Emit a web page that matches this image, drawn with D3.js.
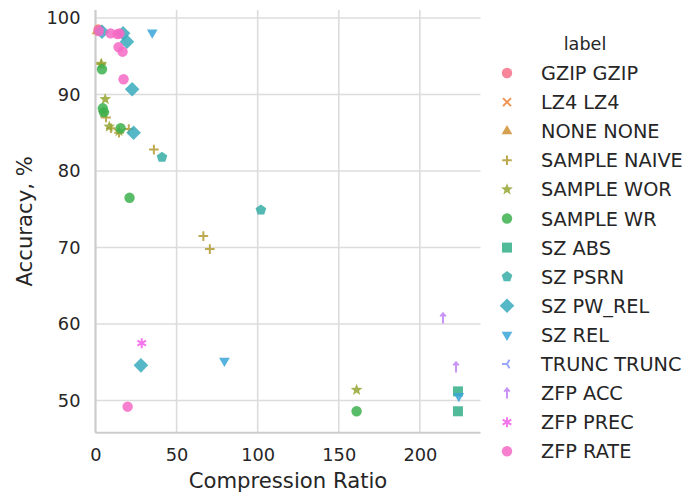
<!DOCTYPE html>
<html>
<head>
<meta charset="utf-8">
<script src="https://cdn.jsdelivr.net/npm/d3@7"></script>
<style>
  body { margin: 0; background: #fff; }
  text { font-family: "DejaVu Sans", sans-serif; fill: #262626; }
</style>
</head>
<body>
<div id="chart"></div>
<script>
// series labels, in legend order
const labels = ['GZIP GZIP', 'LZ4 LZ4', 'NONE NONE', 'SAMPLE NAIVE', 'SAMPLE WOR',
  'SAMPLE WR', 'SZ ABS', 'SZ PSRN', 'SZ PW_REL', 'SZ REL', 'TRUNC TRUNC',
  'ZFP ACC', 'ZFP PREC', 'ZFP RATE'];

// [compression ratio, accuracy %] per series
const gzip = [[1.9, 98.5]];
const lz4 = [[2.7, 98.3]];
const none = [[1.0, 98.3]];
const sampleNaive = [[3.5, 94.0], [6.5, 87.0], [9.5, 85.6], [14.5, 85.0], [20.5, 85.5],
  [36.0, 82.8], [66.5, 71.5], [70.5, 69.8]];
const sampleWor = [[3.6, 94.0], [6.0, 89.4], [5.0, 87.6], [8.5, 85.8], [14.5, 85.2], [161, 51.4]];
const sampleWr = [[4.0, 93.3], [4.5, 88.2], [5.2, 87.7], [15.5, 85.6], [21.0, 76.5], [161, 48.6]];
const szAbs = [[223.5, 51.2], [223.5, 48.6]];
const szPsrn = [[41.0, 81.8], [102, 74.9]];
const szPwRel = [[4.0, 98.2], [17.0, 98.0], [19.4, 96.9], [22.6, 90.7], [23.5, 85.0], [28.0, 54.6]];
const szRel = [[35.0, 98.1], [79.5, 55.2], [224, 50.6]];
const trunc = [[3.5, 98.2]];
const zfpAcc = [[214.3, 60.8], [222.3, 54.4]];
const zfpPrec = [[28.5, 57.5]];
const zfpRate = [[2.0, 98.3], [9.3, 98.0], [13.6, 97.9], [14.8, 98.0], [14.2, 96.2],
  [16.7, 95.6], [17.3, 92.0], [19.8, 49.2]];

const seriesData = [gzip, lz4, none, sampleNaive, sampleWor, sampleWr, szAbs, szPsrn,
  szPwRel, szRel, trunc, zfpAcc, zfpPrec, zfpRate];

const xTicks = [0, 50, 100, 150, 200];
const yTicks = [50, 60, 70, 80, 90, 100];

const colors = ['#f77189', '#ee8135', '#ce9032', '#b29b31', '#94a531', '#3cb04e',
  '#33ae87', '#36ada4', '#38aabd', '#3aa5d8', '#8a96f4', '#bd81f4', '#f25ee8', '#f56ac4'];
const markers = ['circle', 'x', 'tri', 'plus', 'star', 'circle', 'square', 'pentagon',
  'diamond', 'tridown', 'trileft', 'dagger', 'asterisk', 'circle'];

// marker shapes -> {d, stroke}
function shape(name) {
  const poly = (pts) => 'M' + pts.map(p => p[0].toFixed(2) + ',' + p[1].toFixed(2)).join('L') + 'Z';
  const ngon = (n, r, rot) => d3.range(n).map(i => {
    const a = rot + i * 2 * Math.PI / n;
    return [r * Math.sin(a), -r * Math.cos(a)];
  });
  switch (name) {
    case 'circle': return { d: d3.symbol(d3.symbolCircle, Math.PI * 5.2 * 5.2)(), stroke: false };
    case 'x': return { d: 'M-4,-4L4,4M-4,4L4,-4', stroke: true };
    case 'plus': return { d: 'M-4.8,0H4.8M0,-4.8V4.8', stroke: true };
    case 'tri': return { d: poly(ngon(3, 6.2, 0)), stroke: false };
    case 'tridown': return { d: poly(ngon(3, 6.2, Math.PI)), stroke: false };
    case 'square': return { d: 'M-5,-5h10v10h-10Z', stroke: false };
    case 'pentagon': return { d: poly(ngon(5, 5.6, 0)), stroke: false };
    case 'diamond': return { d: poly(ngon(4, 7.3, 0)), stroke: false };
    case 'star': {
      const pts = d3.range(10).map(i => {
        const a = i * Math.PI / 5, r = i % 2 ? 2.6 : 6.2;
        return [r * Math.sin(a), -r * Math.cos(a)];
      });
      return { d: poly(pts), stroke: false };
    }
    case 'trileft': return { d: 'M0,0L-5,0M0,0L2.5,-4.3M0,0L2.5,4.3', stroke: true };
    case 'dagger': return { d: 'M0,-5.5V5.5M-2.8,-1.5L0,-4.5L2.8,-1.5', stroke: true };
    case 'asterisk': return { d: 'M0,-5V5M-4.3,-2.5L4.3,2.5M-4.3,2.5L4.3,-2.5', stroke: true };
  }
}

const width = 687, height = 492;
const m = { left: 95.5, right: 480.5, top: 10, bottom: 432.7 };

const svg = d3.select('#chart').append('svg')
  .attr('width', width)
  .attr('height', height);

const x = d3.scaleLinear().domain([0, 237.4]).range([m.left, m.right]);
const y = d3.scaleLinear().domain([45.8, 101.05]).range([m.bottom, m.top]);

// grid
svg.append('g').selectAll('line').data(xTicks).join('line')
  .attr('x1', d => x(d)).attr('x2', d => x(d))
  .attr('y1', m.top).attr('y2', m.bottom)
  .attr('stroke', '#dcdcdc').attr('stroke-width', 1.6);
svg.append('g').selectAll('line').data(yTicks).join('line')
  .attr('x1', m.left).attr('x2', m.right)
  .attr('y1', d => y(d)).attr('y2', d => y(d))
  .attr('stroke', '#dcdcdc').attr('stroke-width', 1.6);

// axes
const xAxis = svg.append('g')
  .attr('transform', `translate(0,${m.bottom})`)
  .call(d3.axisBottom(x).tickValues(xTicks).tickSize(0).tickPadding(16));
const yAxis = svg.append('g')
  .attr('transform', `translate(${m.left},0)`)
  .call(d3.axisLeft(y).tickValues(yTicks).tickSize(0).tickPadding(15));
[xAxis, yAxis].forEach(a => {
  a.select('.domain').attr('stroke', '#cccccc').attr('stroke-width', 2);
  a.selectAll('text').style('font-size', '17.8px').attr('fill', '#262626');
});
// full-length spines
xAxis.select('.domain').attr('d', `M${m.left},0H${m.right}`);
yAxis.select('.domain').attr('d', `M0,${m.top}V${m.bottom}`);

svg.append('text')
  .attr('x', (m.left + m.right) / 2).attr('y', 488)
  .attr('text-anchor', 'middle').style('font-size', '21.2px')
  .text('Compression Ratio');
svg.append('text')
  .attr('transform', `translate(32,${(m.top + m.bottom) / 2}) rotate(-90)`)
  .attr('text-anchor', 'middle').style('font-size', '21.2px')
  .text('Accuracy, %');

// points
function drawMark(sel, i) {
  const s = shape(markers[i]);
  sel.attr('d', s.d)
    .attr('fill', s.stroke ? 'none' : colors[i])
    .attr('stroke', s.stroke ? colors[i] : 'none')
    .attr('stroke-width', s.stroke ? 2 : 0)
    .attr('stroke-linecap', 'butt')
    .attr('opacity', 0.85);
}

const plot = svg.append('g');
seriesData.forEach((pts, i) => {
  plot.append('g').selectAll('path').data(pts).join('path')
    .attr('transform', d => `translate(${x(d[0])},${y(d[1])})`)
    .call(sel => drawMark(sel, i));
});

// legend
const legend = svg.append('g');
legend.append('text')
  .attr('x', 585).attr('y', 50)
  .attr('text-anchor', 'middle').style('font-size', '17.6px')
  .text('label');
const rows = legend.selectAll('g.row').data(labels).join('g')
  .attr('class', 'row')
  .attr('transform', (d, i) => `translate(0,${73 + i * 29.1})`);
rows.each(function (d, i) {
  const g = d3.select(this);
  g.append('path').attr('transform', 'translate(507,0)').call(sel => drawMark(sel, i));
  g.append('text').attr('x', 541).attr('y', 7)
    .style('font-size', '19.3px').text(d);
});
</script>
</body>
</html>
